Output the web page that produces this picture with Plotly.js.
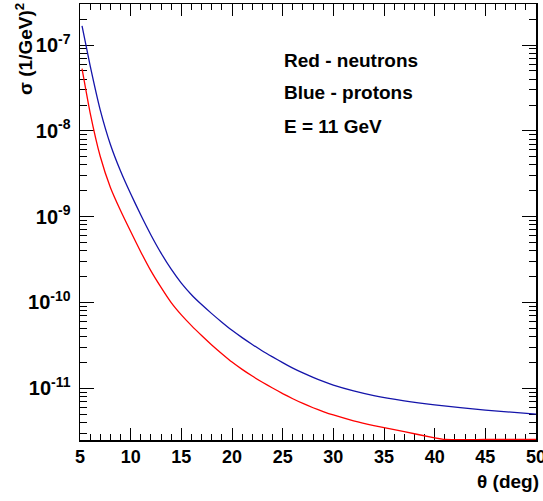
<!DOCTYPE html>
<html>
<head>
<meta charset="utf-8">
<script src="https://cdn.plot.ly/plotly-3.0.1.min.js"></script>
<style>html,body{margin:0;padding:0;background:#fff;}#chart{width:543px;height:501px;}</style>
</head>
<body>
<div id="chart"></div>
<script>
// Scattering angle (deg) and cross sections (1/GeV)^2
const thetaProtons = [5.2, 6, 7, 8, 9, 10, 11, 12, 13, 14, 15, 16, 17, 18, 19, 20, 21, 22, 23, 24, 25, 26, 27, 28, 29, 30, 32, 34, 37, 40, 45, 50];
const sigmaProtons = [1.675e-7, 5.75e-8, 1.742e-8, 6.93e-9, 3.40e-9, 1.845e-9, 1.045e-9, 6.12e-10, 3.76e-10, 2.44e-10, 1.68e-10, 1.23e-10, 9.44e-11, 7.41e-11, 5.89e-11, 4.73e-11, 3.89e-11, 3.24e-11, 2.72e-11, 2.32e-11, 1.99e-11, 1.72e-11, 1.51e-11, 1.34e-11, 1.20e-11, 1.09e-11, 9.33e-12, 8.22e-12, 7.14e-12, 6.40e-12, 5.57e-12, 4.99e-12];

const thetaNeutrons = [5.2, 6, 7, 8, 9, 10, 11, 12, 13, 14, 15, 16, 17, 18, 19, 20, 21, 22, 23, 24, 25, 26, 27, 28, 29, 30, 32, 34, 37, 40, 41, 45, 50];
const sigmaNeutrons = [5.30e-8, 1.622e-8, 5.02e-9, 2.19e-9, 1.178e-9, 6.70e-10, 3.88e-10, 2.33e-10, 1.496e-10, 9.95e-11, 7.16e-11, 5.37e-11, 4.12e-11, 3.20e-11, 2.53e-11, 2.02e-11, 1.66e-11, 1.387e-11, 1.175e-11, 1.007e-11, 8.67e-12, 7.55e-12, 6.65e-12, 5.93e-12, 5.35e-12, 4.88e-12, 4.17e-12, 3.67e-12, 3.12e-12, 2.64e-12, 2.53e-12, 2.53e-12, 2.53e-12];

const yTickVals = [1e-11, 1e-10, 1e-9, 1e-8, 1e-7];
const yTickExp = ['-11', '-10', '-9', '-8', '-7'];
const xTickVals = [5, 10, 15, 20, 25, 30, 35, 40, 45, 50];
const xTickText = ['5', '10', '15', '20', '25', '30', '35', '40', '45', '50'];

const labels = ['Red - neutrons', 'Blue - protons', 'E = 11 GeV'];

const FONT = 'Liberation Sans, Arial, Helvetica, sans-serif';

const yTickText = yTickExp.map(e => '10<sup>' + e + '</sup>');

const traces = [
  {x: thetaProtons, y: sigmaProtons, type: 'scatter', mode: 'lines', line: {color: 'rgb(20,20,170)', width: 1.3, shape: 'spline', smoothing: 0.5}, hoverinfo: 'skip'},
  {x: thetaNeutrons, y: sigmaNeutrons, type: 'scatter', mode: 'lines', line: {color: 'rgb(255,0,0)', width: 1.3, shape: 'spline', smoothing: 0.5}, hoverinfo: 'skip'}
];

const W = 456, H = 436;
const layout = {
  width: 543, height: 501,
  margin: {l: 80, r: 7, t: 4, b: 61},
  paper_bgcolor: '#fff', plot_bgcolor: '#fff',
  showlegend: false,
  font: {family: FONT, color: '#000'},
  xaxis: {
    range: [5, 50], showgrid: false, zeroline: false,
    showline: true, linecolor: '#000', linewidth: 1.5, mirror: 'allticks',
    ticks: 'inside', ticklen: 12, tickwidth: 1, tickcolor: '#000',
    tickvals: xTickVals, ticktext: xTickText, ticklabeloverflow: 'allow',
    tickfont: {family: FONT, size: 18, color: '#000', weight: 'bold'},
    minor: {dtick: 1, ticks: 'inside', ticklen: 6, tickcolor: '#000', tickwidth: 1, showgrid: false},
    layer: 'below traces'
  },
  yaxis: {
    type: 'log', range: [-11.603, -6.522], showgrid: false, zeroline: false,
    showline: true, linecolor: '#000', linewidth: 1.5, mirror: 'allticks',
    ticks: 'inside', ticklen: 14, tickwidth: 1, tickcolor: '#000',
    tickvals: yTickVals, ticktext: yTickText, ticklabelstandoff: 4,
    tickfont: {family: FONT, size: 20, color: '#000', weight: 'bold'},
    minor: {dtick: 'D1', ticks: 'inside', ticklen: 7, tickcolor: '#000', tickwidth: 1, showgrid: false},
    layer: 'below traces'
  },
  annotations: [
    {xref: 'paper', yref: 'paper', x: (282 - 80) / W, y: 1 - (60 - 4) / H, xanchor: 'left', yanchor: 'middle', showarrow: false, text: '<b>' + labels[0] + '</b>', font: {family: FONT, size: 19, color: '#000'}},
    {xref: 'paper', yref: 'paper', x: (282 - 80) / W, y: 1 - (92 - 4) / H, xanchor: 'left', yanchor: 'middle', showarrow: false, text: '<b>' + labels[1] + '</b>', font: {family: FONT, size: 19, color: '#000'}},
    {xref: 'paper', yref: 'paper', x: (282 - 80) / W, y: 1 - (127 - 4) / H, xanchor: 'left', yanchor: 'middle', showarrow: false, text: '<b>' + labels[2] + '</b>', font: {family: FONT, size: 19, color: '#000'}},
    {xref: 'paper', yref: 'paper', x: (541 - 80) / W, y: -(481 - 440) / H, xanchor: 'right', yanchor: 'middle', showarrow: false, text: '<b>θ (deg)</b>', font: {family: FONT, size: 19, color: '#000'}},
    {xref: 'paper', yref: 'paper', x: (24 - 80) / W, y: 1 + (4 - 1) / H, xanchor: 'center', yanchor: 'top', textangle: -90, showarrow: false, text: '<b>σ (1/GeV)<sup>2</sup></b>', font: {family: FONT, size: 19, color: '#000'}}
  ]
};

Plotly.newPlot('chart', traces, layout, {displayModeBar: false, staticPlot: true});
</script>
</body>
</html>
